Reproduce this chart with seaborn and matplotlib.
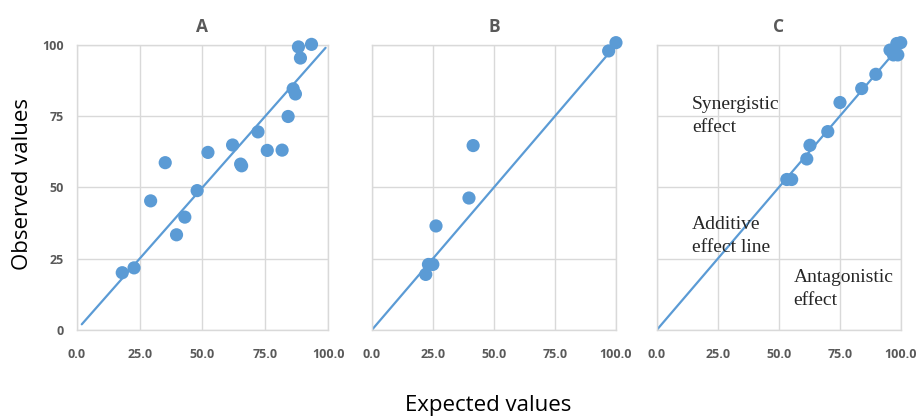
import numpy as np
import pandas as pd
import matplotlib
matplotlib.use("Agg")
import matplotlib.pyplot as plt
import seaborn as sns

# panel A
a_expected = [18.1, 22.8, 29.4, 35.2, 39.7, 43.0, 47.9, 52.2, 62.0, 65.2, 65.6,
              72.1, 75.8, 81.7, 84.1, 86.1, 87.0, 88.2, 89.0, 93.4]
a_observed = [20.1, 21.8, 45.3, 58.7, 33.4, 39.6, 48.9, 62.3, 64.9, 58.2, 57.6,
              69.5, 63.0, 63.1, 74.9, 84.6, 82.8, 99.3, 95.4, 100.2]
# panel B
b_expected = [22.1, 23.2, 25.0, 26.3, 39.8, 41.5, 97.0, 100.0]
b_observed = [19.5, 23.0, 23.0, 36.5, 46.3, 64.7, 97.9, 100.8]
# panel C
c_expected = [53.3, 55.3, 61.5, 62.8, 70.1, 75.1, 84.0, 89.8, 95.6, 97.0, 98.8, 98.4, 100.0]
c_observed = [52.8, 52.8, 60.0, 64.8, 69.6, 79.8, 84.7, 89.7, 98.2, 96.5, 96.5, 100.5, 100.8]

# additive (y = x) lines
a_line = [2, 99]
b_line = [0, 100]
c_line = [0, 100]

panel_titles = ["A", "B", "C"]
x_ticks = [0, 25, 50, 75, 100]
x_tick_labels = ["0.0", "25.0", "50.0", "75.0", "100.0"]
y_ticks = [0, 25, 50, 75, 100]

blue = "#5b9bd5"
grey_text = "#595959"
grid_col = "#d9d9d9"

sns.set_style("white")
plt.rcParams['font.family'] = ['Open Sans', 'DejaVu Sans']

fig = plt.figure(figsize=(9.18, 4.18), dpi=100)
lefts = [0.0836, 0.405, 0.7154]
widths = [0.2738, 0.266, 0.2658]
bottom, height = 0.2105, 0.682

data = [(a_expected, a_observed, a_line),
        (b_expected, b_observed, b_line),
        (c_expected, c_observed, c_line)]

axes = []
for i, (ex, ob, ln) in enumerate(data):
    ax = fig.add_axes([lefts[i], bottom, widths[i], height])
    df = pd.DataFrame({"expected": ex, "observed": ob})
    sns.lineplot(x=ln, y=ln, ax=ax, color=blue, linewidth=1.6, zorder=2)
    sns.scatterplot(data=df, x="expected", y="observed", ax=ax, color=blue,
                    s=90, edgecolor="none", zorder=3, clip_on=False)
    ax.set_xlim(0, 100)
    ax.set_ylim(0, 100)
    ax.set_xticks(x_ticks)
    ax.set_xticklabels(x_tick_labels)
    ax.set_yticks(y_ticks)
    ax.grid(True, color=grid_col, linewidth=1)
    ax.set_axisbelow(True)
    for sp in ax.spines.values():
        sp.set_color(grid_col)
        sp.set_linewidth(1)
    ax.tick_params(axis="x", length=0, labelsize=9, labelcolor=grey_text, pad=13)
    ax.tick_params(axis="y", length=0, labelsize=9, labelcolor=grey_text, pad=9)
    for lab in ax.get_xticklabels() + ax.get_yticklabels():
        lab.set_fontweight("bold")
    if i > 0:
        ax.set_yticklabels([])
    ax.set_xlabel("")
    ax.set_ylabel("")
    ax.set_title(panel_titles[i], fontsize=12.5, fontweight="bold", color=grey_text, pad=9)
    axes.append(ax)

# annotations on panel C
serif = ['Liberation Serif', 'DejaVu Serif']
axc = axes[2]
axc.text(14.5, 82, "Synergistic\neffect", family=serif, fontsize=14, va="top", ha="left",
         linespacing=1.45)
axc.text(14.5, 40, "Additive\neffect line", family=serif, fontsize=14, va="top", ha="left",
         linespacing=1.45)
axc.text(56, 21.5, "Antagonistic\neffect", family=serif, fontsize=14, va="top", ha="left",
         linespacing=1.45)

fig.text(0.024, 0.56, "Observed values", rotation=90, fontsize=16, va="center", ha="center",
         color="black")
fig.text(0.532, 0.03, "Expected values", fontsize=16, va="center", ha="center", color="black")

fig.savefig("out.png", dpi=100)
